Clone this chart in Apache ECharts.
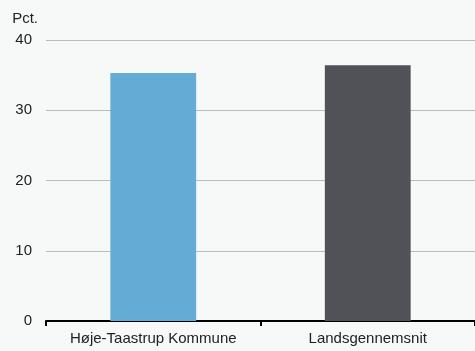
<!DOCTYPE html>
<html><head><meta charset="utf-8">
<script src="https://cdn.jsdelivr.net/npm/echarts@6/dist/echarts.min.js"></script>
<style>html,body{margin:0;padding:0;background:#f7f8f8;}#c{width:475px;height:351px;}</style>
</head><body><div id="c"></div>
<script>
const categories = ["Høje-Taastrup Kommune", "Landsgennemsnit"];
const values = [35.3, 36.4];
const colors = ["#64abd5", "#515257"];
const yTicks = [0, 10, 20, 30, 40];

const chart = echarts.init(document.getElementById('c'));
chart.setOption({
  backgroundColor: '#f7f8f8',
  animation: false,
  textStyle: {fontFamily: 'Liberation Sans, Arial, sans-serif'},
  grid: {left: 46, right: 0, top: 40, bottom: 30, containLabel: false},
  xAxis: {
    type: 'category', data: categories,
    axisLine: {lineStyle: {color: '#000', width: 2}},
    axisTick: {show: true, interval: 0, length: 5, lineStyle: {color: '#000', width: 2}},
    axisLabel: {color: '#222', fontSize: 15, margin: 10, interval: 0, hideOverlap: false}
  },
  yAxis: {
    type: 'value', min: yTicks[0], max: yTicks[yTicks.length-1], interval: 10,
    name: 'Pct.', nameLocation: 'end', nameGap: 14,
    nameTextStyle: {color: '#222', fontSize: 15, align: 'right', padding: [0, 8, 0, 0]},
    axisLine: {show: false}, axisTick: {show: false},
    axisLabel: {color: '#222', fontSize: 15, margin: 14},
    splitLine: {lineStyle: {color: '#bbbbbb', width: 1}}
  },
  series: [{
    type: 'bar', barWidth: '40%',
    data: values.map((v, i) => ({value: v, itemStyle: {color: colors[i]}}))
  }]
});
</script></body></html>
